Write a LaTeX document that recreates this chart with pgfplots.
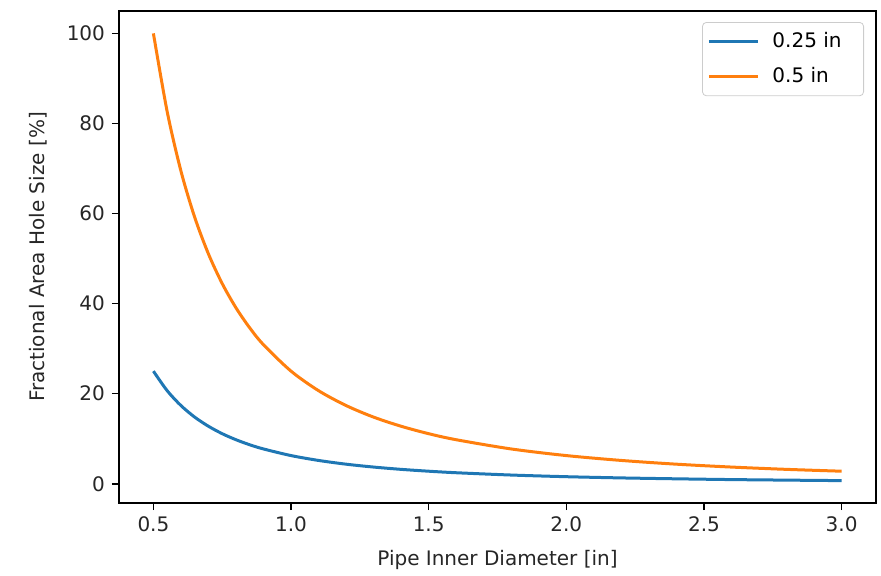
\documentclass[border=0pt]{standalone}
\usepackage{pgfplots}
\pgfplotsset{compat=1.18}
\usepackage{fontspec}
\setmainfont{DejaVu Sans}
\definecolor{mplblue}{HTML}{1F77B4}
\definecolor{mplorange}{HTML}{FF7F0E}
\definecolor{mpltext}{HTML}{262626}
\begin{document}
\begin{tikzpicture}
\begin{axis}[
  scale only axis,
  width=378.5pt, height=246pt,
  xmin=0.375, xmax=3.125,
  ymin=-4.28, ymax=104.97,
  xtick={0.5,1.0,1.5,2.0,2.5,3.0},
  ytick={0,20,40,60,80,100},
  xticklabel style={/pgf/number format/.cd, fixed, fixed zerofill, precision=1},
  /pgf/number format/assume math mode=true,
  tick align=outside,
  tick pos=left,
  major tick length=3.5pt,
  every tick/.style={black, line width=0.8pt},
  axis line style={line width=0.8pt, black},
  ticklabel style={font=\fontsize{10}{12}\selectfont, text=mpltext},
  xlabel={Pipe Inner Diameter [in]},
  ylabel={Fractional Area Hole Size [\%]},
  label style={font=\fontsize{10}{12}\selectfont, text=mpltext},
  xlabel style={yshift=-2pt},
  ylabel style={yshift=3pt},
  legend cell align=left,
  legend style={at={(1,1)}, anchor=north east, xshift=-6pt, yshift=-5.5pt,
    draw=black!20, rounded corners=2pt, fill=white, fill opacity=0.8, text opacity=1,
    font=\fontsize{10}{12}\selectfont, inner xsep=2.5pt, inner ysep=3pt,
    row sep=4.5pt, column sep=4.5pt},
  legend image code/.code={\draw[#1, line width=1.5pt] (0pt,0pt) -- (24.5pt,0pt);},
]
\addplot[mplblue, line width=1.5pt, smooth] coordinates {
(0.5,25) (0.55,20.66) (0.6,17.36) (0.65,14.79) (0.7,12.76) (0.75,11.11)
(0.8,9.77) (0.85,8.65) (0.9,7.72) (1.0,6.25) (1.1,5.17) (1.2,4.34)
(1.3,3.70) (1.4,3.19) (1.5,2.78) (1.6,2.44) (1.8,1.93) (2.0,1.56)
(2.2,1.29) (2.4,1.09) (2.6,0.92) (2.8,0.80) (3.0,0.69)
};
\addlegendentry{0.25 in\hspace*{6.5pt}}
\addplot[mplorange, line width=1.5pt, smooth] coordinates {
(0.5,100) (0.55,82.64) (0.6,69.44) (0.65,59.17) (0.7,51.02) (0.75,44.44)
(0.8,39.06) (0.85,34.60) (0.9,30.86) (1.0,25.00) (1.1,20.66) (1.2,17.36)
(1.3,14.79) (1.4,12.76) (1.5,11.11) (1.6,9.77) (1.8,7.72) (2.0,6.25)
(2.2,5.17) (2.4,4.34) (2.6,3.70) (2.8,3.19) (3.0,2.78)
};
\addlegendentry{0.5 in}
\end{axis}
\pgfresetboundingbox
\path ([xshift=-59.5pt,yshift=-36pt]current axis.south west) rectangle ([xshift=2.5pt,yshift=5.5pt]current axis.north east);
\end{tikzpicture}
\end{document}
